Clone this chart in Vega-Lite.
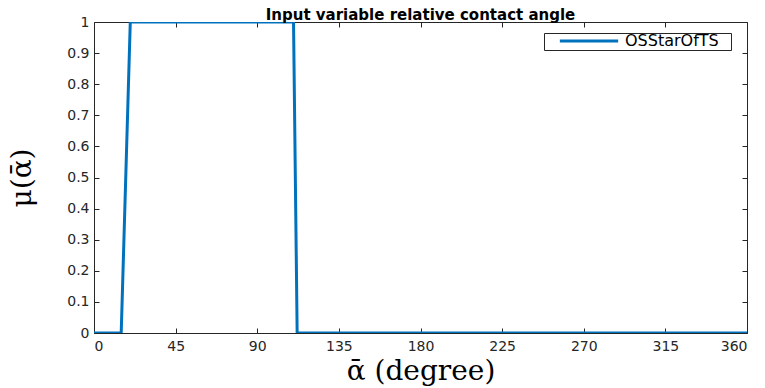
{
  "$schema": "https://vega.github.io/schema/vega-lite/v6.json",
  "width": 653,
  "height": 311,
  "autosize": {"type": "none"},
  "padding": {"left": 94, "top": 22, "right": 18, "bottom": 55},
  "background": "white",
  "title": {
    "text": "Input variable relative contact angle",
    "font": "DejaVu Sans",
    "fontSize": 15,
    "fontWeight": "bold",
    "color": "black",
    "offset": -8,
    "anchor": "middle"
  },
  "data": {
    "values": [
      {"angle": 0, "mu": 0, "series": "OSStarOfTS"},
      {"angle": 15, "mu": 0, "series": "OSStarOfTS"},
      {"angle": 20, "mu": 1, "series": "OSStarOfTS"},
      {"angle": 110, "mu": 1, "series": "OSStarOfTS"},
      {"angle": 112, "mu": 0, "series": "OSStarOfTS"},
      {"angle": 360, "mu": 0, "series": "OSStarOfTS"}
    ]
  },
  "config": {
    "view": {"stroke": "#262626", "strokeWidth": 1},
    "axis": {
      "grid": false,
      "domain": false,
      "tickColor": "#262626",
      "tickSize": -5,
      "labelFont": "DejaVu Sans",
      "labelFontSize": 14,
      "labelColor": "#262626",
      "titleFont": "DejaVu Serif",
      "titleFontWeight": "normal",
      "titleColor": "black"
    }
  },
  "layer": [
    {
      "mark": {"type": "line", "strokeWidth": 3, "clip": true},
      "encoding": {
        "x": {
          "field": "angle", "type": "quantitative",
          "scale": {"domain": [0, 360], "nice": false, "zero": false},
          "axis": {"values": [0, 45, 90, 135, 180, 225, 270, 315, 360], "title": "ᾱ  (degree)", "titleFontSize": 28, "labelPadding": 11, "titlePadding": 4}
        },
        "y": {
          "field": "mu", "type": "quantitative",
          "scale": {"domain": [0, 1], "nice": false},
          "axis": {"values": [0, 0.1, 0.2, 0.3, 0.4, 0.5, 0.6, 0.7, 0.8, 0.9, 1], "format": "~g", "title": "μ(ᾱ)", "titleFontSize": 28, "labelPadding": 10, "titlePadding": 30}
        },
        "color": {
          "field": "series", "type": "nominal",
          "scale": {"range": ["#0072BD"]},
          "legend": {
            "title": "\u00a0",
            "titleOrient": "right",
            "titleFontSize": 6,
            "titlePadding": 11,
            "orient": "none",
            "legendX": 450,
            "legendY": 11,
            "symbolType": "stroke",
            "symbolSize": 3400,
            "symbolStrokeWidth": 3,
            "symbolOffset": 13,
            "labelOffset": 5,
            "clipHeight": 14,
            "labelFont": "DejaVu Sans",
            "labelFontSize": 16,
            "labelColor": "black",
            "padding": 1,
            "fillColor": "white",
            "strokeColor": "#262626"
          }
        }
      }
    },
    {
      "mark": {"type": "line", "opacity": 0},
      "encoding": {
        "x": {
          "field": "angle", "type": "quantitative",
          "axis": {"orient": "top", "values": [0, 45, 90, 135, 180, 225, 270, 315, 360], "labels": false, "title": null}
        },
        "y": {
          "field": "mu", "type": "quantitative",
          "axis": {"orient": "right", "values": [0, 0.1, 0.2, 0.3, 0.4, 0.5, 0.6, 0.7, 0.8, 0.9, 1], "labels": false, "title": null}
        }
      }
    }
  ],
  "resolve": {"axis": {"x": "independent", "y": "independent"}}
}
